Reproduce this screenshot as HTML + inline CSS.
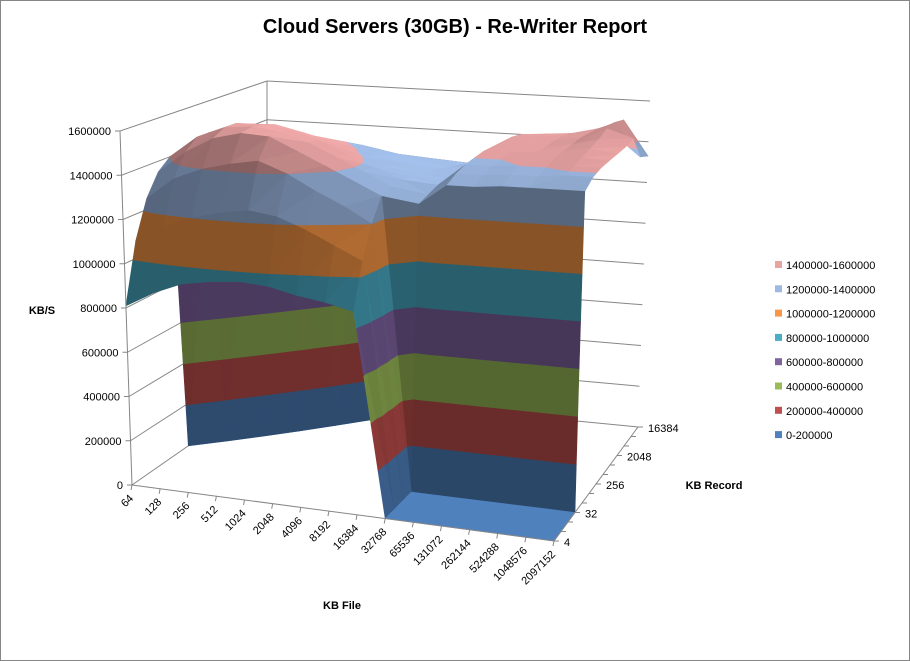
<!DOCTYPE html>
<html><head><meta charset="utf-8"><style>
html,body{margin:0;padding:0;background:#fff}
svg{display:block}
text{font-family:"Liberation Sans",sans-serif}
</style></head><body>
<svg id="chart" width="910" height="661" viewBox="0 0 910 661" xmlns="http://www.w3.org/2000/svg">
<rect x="0.5" y="0.5" width="909" height="660" fill="#fff" stroke="#868686"/>
<text x="455" y="33" text-anchor="middle" font-size="20" font-weight="bold">Cloud Servers (30GB)  - Re-Writer Report</text>
<g id="walls"></g>
<g id="surface"></g>
<g id="axes"></g>
<text x="42" y="314" text-anchor="middle" font-size="11" font-weight="bold">KB/S</text>
<text x="342" y="609" text-anchor="middle" font-size="11" font-weight="bold">KB File</text>
<text x="714" y="489" text-anchor="middle" font-size="11" font-weight="bold">KB Record</text>
<g id="legend"></g>
</svg>
<script>
const fileLabels = ["64","128","256","512","1024","2048","4096","8192","16384","32768","65536","131072","262144","524288","1048576","2097152"];
const recordLabels = ["4","8","16","32","64","128","256","512","1024","2048","4096","8192","16384"];
const recordTickLabels = ["4","","","32","","","256","","","2048","","","16384"];
const valueTicks = [0,200000,400000,600000,800000,1000000,1200000,1400000,1600000];
const bandLabels = ["0-200000","200000-400000","400000-600000","600000-800000","800000-1000000","1000000-1200000","1200000-1400000","1400000-1600000"];
const bandColors = ["#4F81BD","#C0504D","#9BBB59","#8064A2","#4BACC6","#F79646","#9DB9E3","#E8A3A3"];
// values in KB/s: rows = record size, columns = file size
const rec4     = [810000,880000,930000,950000,960000,950000,920000,900000,870000,0,0,0,0,0,0,0];
const rec8     = [1080000,1150000,1200000,1230000,1250000,1230000,1180000,1120000,1060000,0,0,0,0,0,0,0];
const rec16    = [1250000,1350000,1400000,1430000,1450000,1400000,1330000,1270000,1200000,0,0,0,0,0,0,0];
const rec32    = [1350000,1450000,1520000,1550000,1540000,1480000,1420000,1360000,1300000,0,0,0,0,0,0,0];
const rec64    = [1400000,1500000,1550000,1560000,1540000,1500000,1440000,1380000,1320000,1250000,1340000,1340000,1350000,1350000,1350000,1350000];
const rec128   = [0,1500000,1550000,1550000,1530000,1490000,1430000,1380000,1330000,1270000,1370000,1370000,1380000,1380000,1390000,1390000];
const rec256   = [0,0,1520000,1530000,1500000,1460000,1410000,1360000,1320000,1290000,1390000,1390000,1400000,1400000,1410000,1410000];
const rec512   = [0,0,0,1480000,1460000,1430000,1380000,1340000,1310000,1290000,1400000,1400000,1410000,1420000,1430000,1420000];
const rec1024  = [0,0,0,0,1430000,1400000,1360000,1330000,1300000,1290000,1410000,1410000,1420000,1430000,1450000,1430000];
const rec2048  = [0,0,0,0,0,1380000,1340000,1310000,1290000,1290000,1410000,1420000,1420000,1440000,1470000,1440000];
const rec4096  = [0,0,0,0,0,0,1320000,1290000,1270000,1280000,1410000,1420000,1430000,1450000,1500000,1460000];
const rec8192  = [0,0,0,0,0,0,0,1280000,1260000,1270000,1410000,1420000,1430000,1450000,1510000,1350000];
const rec16384 = [0,0,0,0,0,0,0,0,1240000,1240000,1400000,1410000,1420000,1450000,1500000,1330000];
const rows = [rec4,rec8,rec16,rec32,rec64,rec128,rec256,rec512,rec1024,rec2048,rec4096,rec8192,rec16384];

const NS="http://www.w3.org/2000/svg";
const VMAX=1600000, NI=fileLabels.length-1, NJ=recordLabels.length-1;
const C={FL0:[132,485],FR0:[554,541],BL0:[267,391],BR0:[638,427],FL1:[120,131],FR1:[553,150],BL1:[267,81],BR1:[650,101]};
function bil(a,b,c,d,u,v){return [(a[0]*(1-u)+b[0]*u)*(1-v)+(c[0]*(1-u)+d[0]*u)*v,(a[1]*(1-u)+b[1]*u)*(1-v)+(c[1]*(1-u)+d[1]*u)*v];}
function proj(i,j,val){const u=i/NI,v=j/NJ,w=val/VMAX;
 const b=bil(C.FL0,C.FR0,C.BL0,C.BR0,u,v),t=bil(C.FL1,C.FR1,C.BL1,C.BR1,u,v);
 return [b[0]+(t[0]-b[0])*w,b[1]+(t[1]-b[1])*w];}
function mk(tag,attrs,parent){const e=document.createElementNS(NS,tag);for(const k in attrs)e.setAttribute(k,attrs[k]);parent.appendChild(e);return e;}
function line(p,q,parent,col){return mk('line',{x1:p[0],y1:p[1],x2:q[0],y2:q[1],stroke:col||'#868686','stroke-width':1},parent);}

const walls=document.getElementById('walls');
valueTicks.forEach(t=>{
 const a=proj(0,0,t),b=proj(0,NJ,t),c=proj(NI,NJ,t);
 const l1=line(a,b,walls);
 
 
 const l2=line(b,c,walls);
 
 
});
line(proj(0,NJ,0),proj(0,NJ,VMAX),walls);

function clip(poly,lo,hi){
 function cut(pts,keep,edge){const out=[];for(let k=0;k<pts.length;k++){const P=pts[k],Q=pts[(k+1)%pts.length];const pin=keep(P),qin=keep(Q);
  if(pin)out.push(P);
  if(pin!==qin){const t=(edge-P[2])/(Q[2]-P[2]);out.push([P[0]+(Q[0]-P[0])*t,P[1]+(Q[1]-P[1])*t,edge]);}}return out;}
 let r=cut(poly,p=>p[2]>=lo,lo);if(r.length<3)return r;return cut(r,p=>p[2]<=hi,hi);}
function shade(hex,f){const n=parseInt(hex.slice(1),16);const r=(n>>16)&255,g=(n>>8)&255,b=n&255;
 return 'rgb('+Math.round(Math.min(255,r*f))+','+Math.round(Math.min(255,g*f))+','+Math.round(Math.min(255,b*f))+')';}
const surf=document.getElementById('surface');
function drawTri(tri){
 const a=tri[0],b=tri[1],c=tri[2];
 const ux=[(b[0]-a[0])/NI,(b[1]-a[1])/NJ,(b[2]-a[2])/VMAX*1.3],vx=[(c[0]-a[0])/NI,(c[1]-a[1])/NJ,(c[2]-a[2])/VMAX*1.3];
 let n=[ux[1]*vx[2]-ux[2]*vx[1],ux[2]*vx[0]-ux[0]*vx[2],ux[0]*vx[1]-ux[1]*vx[0]];
 if(n[2]<0)n=n.map(x=>-x);
 const L=Math.hypot(n[0],n[1],n[2])||1;n=n.map(x=>x/L);
 const lt=[0.25,0.35,0.9],ll=Math.hypot(...lt);
 const d=(n[0]*lt[0]+n[1]*lt[1]+n[2]*lt[2])/ll;
 const f=0.55+0.5*Math.max(0,d);
 for(let k=0;k<bandColors.length;k++){
  const lo=k*200000,hi=(k+1)*200000;
  const p=clip(tri,lo,hi);
  if(p.length<3)continue;
  const pts=p.map(q=>proj(q[0],q[1],q[2]).map(x=>x.toFixed(1)).join(',')).join(' ');
  const col=shade(bandColors[k],f);
  const pg=mk('polygon',{points:pts,fill:col,stroke:col,'stroke-width':0.6},surf);
  
  
 }
}
for(let j=NJ-1;j>=0;j--){
 for(let i=0;i<NI;i++){
  const A=[i,j,rows[j][i]],B=[i+1,j,rows[j][i+1]],Cc=[i+1,j+1,rows[j+1][i+1]],D=[i,j+1,rows[j+1][i]];
  drawTri([D,Cc,A]);drawTri([A,B,Cc]);
 }
}

const axes=document.getElementById('axes');
line(proj(0,0,0),proj(0,0,VMAX),axes);
line(proj(0,0,0),proj(NI,0,0),axes);
line(proj(NI,0,0),proj(NI,NJ,0),axes);
valueTicks.forEach(t=>{
 const p=proj(0,0,t);
 line([p[0]-5,p[1]],p,axes);
 const tx=mk('text',{x:p[0]-9,y:p[1]+4,'text-anchor':'end','font-size':11},axes);
 tx.textContent=String(t);
 
 
});
fileLabels.forEach((l,i)=>{
 const p=proj(i,0,0);
 line(p,[p[0]-1,p[1]+5],axes);
 const x=p[0]+2,y=p[1]+14;
 const tx=mk('text',{x:x,y:y,'text-anchor':'end','font-size':11,transform:'rotate(-45 '+x+' '+y+')'},axes);
 tx.textContent=l;
 
 
});
recordTickLabels.forEach((l,j)=>{
 const p=proj(NI,j,0);
 line(p,[p[0]+5,p[1]],axes);
 if(!l)return;
 const tx=mk('text',{x:p[0]+10,y:p[1]+5,'font-size':11},axes);
 tx.textContent=l;
 
 
});

const lg=document.getElementById('legend');
for(let k=bandColors.length-1;k>=0;k--){
 const y=265+(bandColors.length-1-k)*24.3;
 const g=mk('g',{},lg);
 
 
 mk('rect',{x:775,y:y-4,width:7,height:7,fill:bandColors[k]},g);
 const tx=mk('text',{x:786,y:y+4,'font-size':11},g);
 tx.textContent=bandLabels[k];
}
</script>
</body></html>
